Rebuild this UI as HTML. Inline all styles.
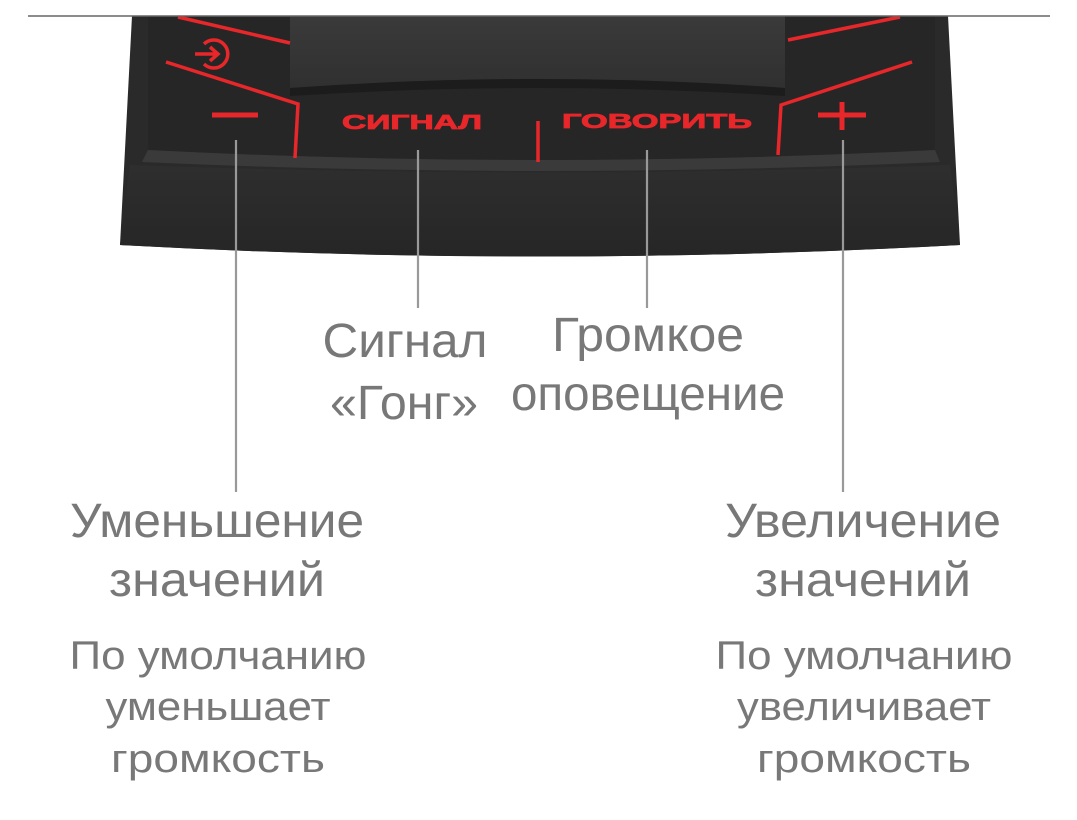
<!DOCTYPE html>
<html><head><meta charset="utf-8"><style>
html,body{margin:0;padding:0;background:#fff}
svg{display:block}
text{font-family:"Liberation Sans",sans-serif;fill:#787878}
</style></head><body>
<svg width="1077" height="820" viewBox="0 0 1077 820" xmlns="http://www.w3.org/2000/svg">
<defs>
<linearGradient id="bev" x1="0" y1="0" x2="0" y2="1"><stop offset="0" stop-color="#2e2e2e"/><stop offset="1" stop-color="#262626"/></linearGradient>
<linearGradient id="mic" x1="0" y1="0" x2="0" y2="1"><stop offset="0" stop-color="#3a3a3a"/><stop offset="1" stop-color="#303030"/></linearGradient>
</defs>
<path d="M132 16 L948 16 L960 245 Q540 268 120 245 Z" fill="#2a2a2a"/>
<path d="M130 165 Q540 180 950 165 L960 245 Q540 268 120 245 Z" fill="url(#bev)"/>
<path d="M148 16 L935 16 L935 150 Q540 170 148 150 Z" fill="#262626"/>
<path d="M148 150 Q540 170 935 150 L940 162 Q540 180 142 162 Z" fill="#3a3a3a"/>
<path d="M290 16 L785 16 L785 88 Q540 70 290 88 Z" fill="url(#mic)"/>
<path d="M290 88 Q540 70 785 88 L785 96 Q540 80 290 96 Z" fill="#1c1c1c"/>
<g stroke="#e8272a" stroke-width="3.5" fill="none">
<path d="M178 17 L290 43"/>
<path d="M166 62 L298 104 L295 158"/>
<path d="M538 121 L538 162"/>
<path d="M788 40 L900 17"/>
<path d="M912 62 L781 105 L778 155"/>
</g>
<g stroke="#e8272a" stroke-width="5" fill="none">
<path d="M212 115 L258 115"/>
<path d="M818 115 L866 115 M842 102 L842 130"/>
</g>
<g stroke="#e8272a" stroke-width="3.5" fill="none">
<path d="M195 54 L218 54 M210 47 L218 54 L210 61"/>
<path d="M204 44 A14 14 0 1 1 204 64"/>
</g>
<text x="412" y="129" text-anchor="middle" font-size="20" font-weight="bold" style="fill:#e8272a;stroke:#e8272a;stroke-width:0.8" textLength="140" lengthAdjust="spacingAndGlyphs">СИГНАЛ</text>
<text x="657" y="128" text-anchor="middle" font-size="20" font-weight="bold" style="fill:#e8272a;stroke:#e8272a;stroke-width:0.8" textLength="190" lengthAdjust="spacingAndGlyphs">ГОВОРИТЬ</text>
<line x1="28" y1="16" x2="1050" y2="16" stroke="#666" stroke-width="1.5"/>
<g stroke="#999" stroke-width="2.2">
<line x1="236" y1="140" x2="236" y2="492"/>
<line x1="418" y1="150" x2="418" y2="308"/>
<line x1="647" y1="150" x2="647" y2="308"/>
<line x1="843" y1="140" x2="843" y2="492"/>
</g>
<g font-size="48" text-anchor="middle">
<text x="405" y="357" textLength="165" lengthAdjust="spacingAndGlyphs">Сигнал</text>
<text x="404" y="419" textLength="148" lengthAdjust="spacingAndGlyphs">«Гонг»</text>
<text x="648" y="351" textLength="192" lengthAdjust="spacingAndGlyphs">Громкое</text>
<text x="648" y="410" textLength="274" lengthAdjust="spacingAndGlyphs">оповещение</text>
<text x="217" y="537" textLength="294" lengthAdjust="spacingAndGlyphs">Уменьшение</text>
<text x="217" y="596" textLength="216" lengthAdjust="spacingAndGlyphs">значений</text>
<text x="863" y="537" textLength="276" lengthAdjust="spacingAndGlyphs">Увеличение</text>
<text x="863" y="596" textLength="216" lengthAdjust="spacingAndGlyphs">значений</text>
</g>
<g font-size="40" text-anchor="middle">
<text x="218" y="669" textLength="297" lengthAdjust="spacingAndGlyphs">По умолчанию</text>
<text x="218" y="720" textLength="225" lengthAdjust="spacingAndGlyphs">уменьшает</text>
<text x="218" y="772" textLength="214" lengthAdjust="spacingAndGlyphs">громкость</text>
<text x="864" y="669" textLength="297" lengthAdjust="spacingAndGlyphs">По умолчанию</text>
<text x="864" y="720" textLength="254" lengthAdjust="spacingAndGlyphs">увеличивает</text>
<text x="864" y="772" textLength="214" lengthAdjust="spacingAndGlyphs">громкость</text>
</g>
</svg>
</body></html>
